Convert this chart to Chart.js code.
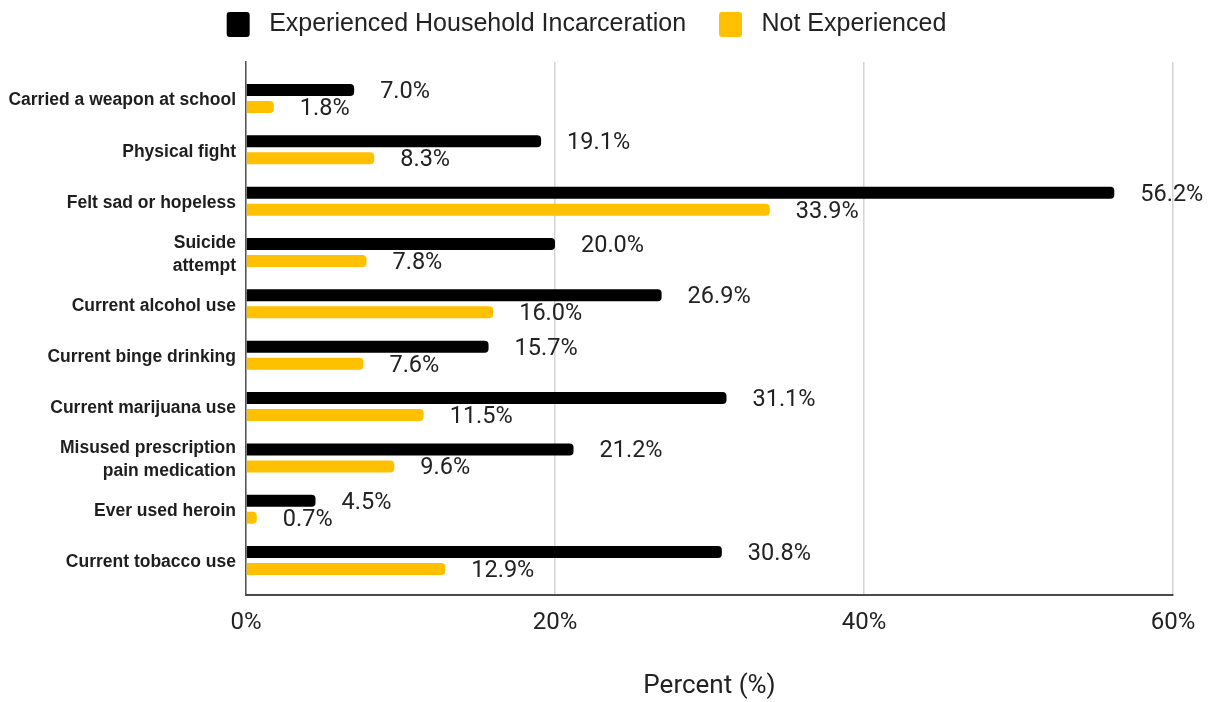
<!DOCTYPE html>
<html>
<head>
<meta charset="utf-8">
<script src="https://cdn.jsdelivr.net/npm/chart.js@4.4.1/dist/chart.umd.min.js"></script>
<style>
    html, body { margin: 0; padding: 0; background: #ffffff; }
    #wrap { width: 1213px; height: 702px; position: relative; }
</style>
</head>
<body>
<div id="wrap"><canvas id="chart"></canvas></div>
<script>
// Chart data
const CATEGORIES = [
    'Carried a weapon at school',
    'Physical fight',
    'Felt sad or hopeless',
    ['Suicide', 'attempt'],
    'Current alcohol use',
    'Current binge drinking',
    'Current marijuana use',
    ['Misused prescription', 'pain medication'],
    'Ever used heroin',
    'Current tobacco use'
];
const EXPERIENCED = [7.0, 19.1, 56.2, 20.0, 26.9, 15.7, 31.1, 21.2, 4.5, 30.8];
const NOT_EXPERIENCED = [1.8, 8.3, 33.9, 7.8, 16.0, 7.6, 11.5, 9.6, 0.7, 12.9];
const X_TICKS = [0, 20, 40, 60];

const BLACK = '#000000';
const YELLOW = '#FFC000';

// Build {x, y} points, category index on the y axis
function toPoints(values) {
    return values.map((v, i) => ({ x: v, y: i }));
}

// Draw value labels to the right of each bar
const valueLabels = {
    id: 'valueLabels',
    afterDatasetsDraw(chart) {
        const ctx = chart.ctx;
        ctx.save();
        ctx.font = '23.5px Roboto';
        ctx.fillStyle = '#222222';
        ctx.textAlign = 'left';
        ctx.textBaseline = 'middle';
        chart.data.datasets.forEach((ds, di) => {
            const meta = chart.getDatasetMeta(di);
            meta.data.forEach((bar, i) => {
                const v = ds.data[i].x;
                ctx.fillText(v.toFixed(1) + '%', bar.x + 26, bar.y + 2);
            });
        });
        ctx.restore();
    }
};

// Make the legend block tall enough that the plot starts at y = 62
const legendHeight = {
    id: 'legendHeight',
    beforeLayout(chart) {
        const legend = chart.legend;
        if (!legend || legend._patched) return;
        const fit = legend.fit;
        legend.fit = function () {
            fit.call(this);
            this.height = 83;
        };
        legend._patched = true;
    }
};

new Chart(document.getElementById('chart'), {
    type: 'bar',
    data: {
        datasets: [{
            label: ' Experienced Household Incarceration',
            data: toPoints(EXPERIENCED),
            backgroundColor: BLACK,
            borderRadius: 4,
            categoryPercentage: 0.662,
            barPercentage: 0.706
        }, {
            label: ' Not Experienced',
            data: toPoints(NOT_EXPERIENCED),
            backgroundColor: YELLOW,
            borderRadius: 4,
            categoryPercentage: 0.662,
            barPercentage: 0.706
        }]
    },
    options: {
        indexAxis: 'y',
        responsive: true,
        maintainAspectRatio: false,
        animation: false,
        layout: {
            padding: { left: 0, right: 40, top: -21, bottom: 0 }
        },
        scales: {
            x: {
                type: 'linear',
                min: 0,
                max: 60,
                afterBuildTicks: scale => {
                    scale.ticks = X_TICKS.map(v => ({ value: v }));
                },
                afterFit: scale => { scale.height = 107; },
                grid: {
                    color: '#d4d4d4',
                    lineWidth: 1.5,
                    drawTicks: false
                },
                border: { color: '#4a4a4a', width: 2 },
                ticks: {
                    padding: 14,
                    color: '#222222',
                    font: { family: 'Roboto', size: 24 },
                    callback: v => v + '%'
                },
                title: {
                    display: true,
                    text: 'Percent (%)',
                    color: '#222222',
                    font: { family: 'Roboto', size: 26 },
                    padding: 0
                }
            },
            y: {
                type: 'linear',
                reverse: true,
                offset: false,
                min: -0.71,
                max: 9.67,
                afterBuildTicks: scale => {
                    scale.ticks = CATEGORIES.map((_, i) => ({ value: i }));
                },
                afterFit: scale => { scale.width = 246; },
                grid: { display: false, drawTicks: false },
                border: { color: '#555555', width: 1.5 },
                ticks: {
                    padding: 10,
                    labelOffset: 2,
                    color: '#1e1e1e',
                    font: { family: 'Liberation Sans', size: 17.5, weight: 'bold', lineHeight: 1.32 },
                    callback: v => CATEGORIES[v]
                }
            }
        },
        plugins: {
            legend: {
                position: 'top',
                labels: {
                    color: '#222222',
                    font: { family: 'Liberation Sans', size: 25 },
                    boxWidth: 23,
                    boxHeight: 25,
                    useBorderRadius: true,
                    borderRadius: 3,
                    padding: 33
                }
            },
            tooltip: { enabled: false }
        }
    },
    plugins: [valueLabels, legendHeight]
});
</script>
</body>
</html>
